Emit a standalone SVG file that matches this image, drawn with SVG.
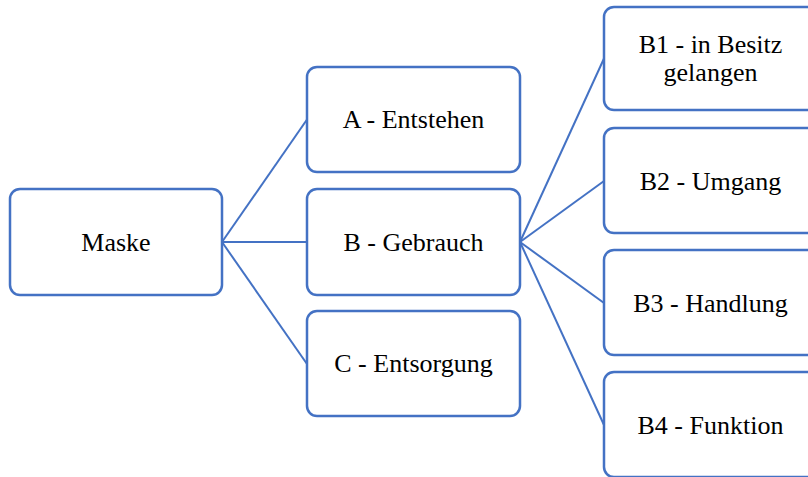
<svg xmlns="http://www.w3.org/2000/svg" width="808" height="477" viewBox="0 0 808 477">
<style>
.box{fill:#fff;stroke:#4472C4;stroke-width:2.5}
.lbl{font-family:"Liberation Serif","Times New Roman",serif;font-size:26px;fill:#000;text-anchor:middle}
.con{stroke:#4472C4;stroke-width:2;fill:none}
</style>
<rect width="808" height="477" fill="#fff"/>
<g id="connectors">
<line class="con" x1="222" y1="242" x2="307" y2="119.5"/>
<line class="con" x1="222" y1="242" x2="307" y2="242"/>
<line class="con" x1="222" y1="242" x2="307" y2="364"/>
<line class="con" x1="520" y1="242" x2="604" y2="58.5"/>
<line class="con" x1="520" y1="242" x2="604" y2="181"/>
<line class="con" x1="520" y1="242" x2="604" y2="303"/>
<line class="con" x1="520" y1="242" x2="604" y2="425"/>
</g>
<g id="maske"><rect class="box" x="10" y="189" width="212" height="106" rx="10"/><text class="lbl" x="116" y="250.5">Maske</text></g>
<g id="a"><rect class="box" x="307" y="67" width="213" height="105" rx="10"/><text class="lbl" x="413.5" y="128">A - Entstehen</text></g>
<g id="b"><rect class="box" x="307" y="189" width="213" height="106" rx="10"/><text class="lbl" x="413.5" y="250.5">B - Gebrauch</text></g>
<g id="c"><rect class="box" x="307" y="311" width="213" height="105" rx="10"/><text class="lbl" x="413.5" y="372">C - Entsorgung</text></g>
<g id="b1"><rect class="box" x="604" y="7" width="213" height="103" rx="10"/><text class="lbl" x="710.5" y="53">B1 - in Besitz</text><text class="lbl" x="710.5" y="81">gelangen</text></g>
<g id="b2"><rect class="box" x="604" y="128" width="213" height="105" rx="10"/><text class="lbl" x="710.5" y="189.5">B2 - Umgang</text></g>
<g id="b3"><rect class="box" x="604" y="250" width="213" height="105" rx="10"/><text class="lbl" x="710.5" y="311.5">B3 - Handlung</text></g>
<g id="b4"><rect class="box" x="604" y="372" width="213" height="105" rx="10"/><text class="lbl" x="710.5" y="433.5">B4 - Funktion</text></g>
</svg>
